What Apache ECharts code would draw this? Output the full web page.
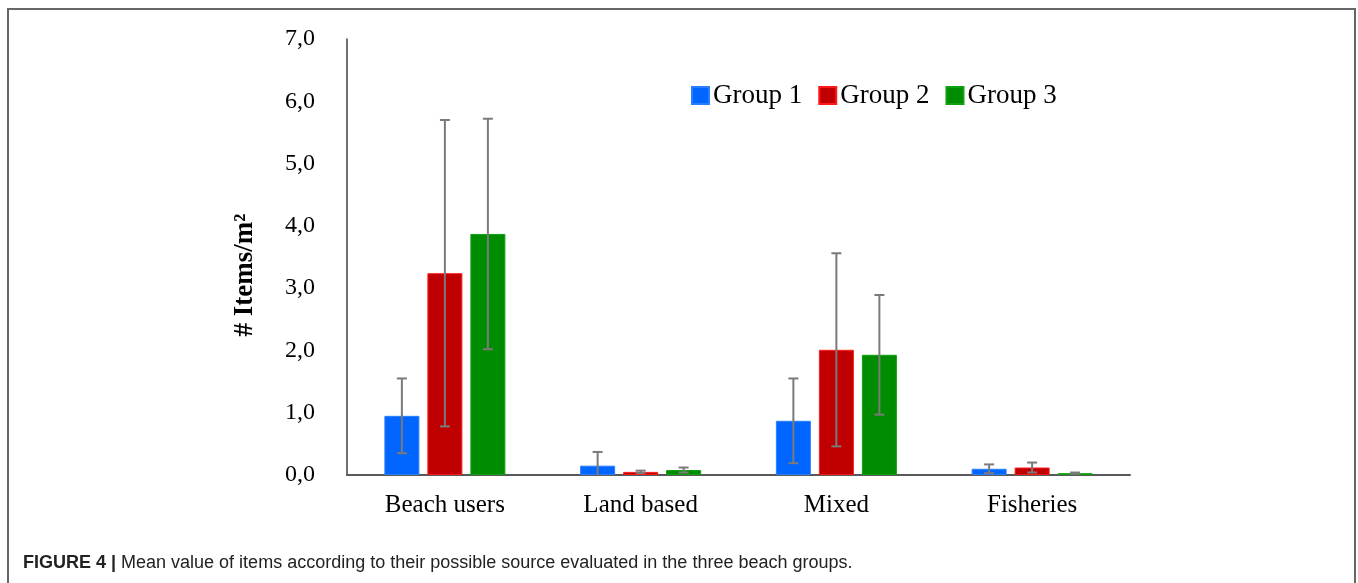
<!DOCTYPE html>
<html>
<head>
<meta charset="utf-8">
<script src="https://cdn.jsdelivr.net/npm/echarts@6/dist/echarts.min.js"></script>
<style>
html,body{margin:0;padding:0;background:#fff;}
#chart{width:1358px;height:583px;}
</style>
</head>
<body>
<div id="chart"></div>
<script>
const categories = ['Beach users', 'Land based', 'Mixed', 'Fisheries'];
const seriesNames = ['Group 1', 'Group 2', 'Group 3'];
const group1Mean = [0.95, 0.15, 0.87, 0.10];
const group2Mean = [3.24, 0.05, 2.01, 0.12];
const group3Mean = [3.87, 0.08, 1.93, 0.03];
const group1Err = [0.60, 0.22, 0.68, 0.07];
const group2Err = [2.46, 0.02, 1.55, 0.08];
const group3Err = [1.85, 0.04, 0.96, 0.01];
const yTicks = [0, 1, 2, 3, 4, 5, 6, 7];

const means = [group1Mean, group2Mean, group3Mean];
const errs = [group1Err, group2Err, group3Err];
const colors = ['#0066ff', '#c00000', '#008c00'];
const borderColors = ['#2a7fff', '#ff1a1a', '#10a010'];
const BAR_W = 35, BAR_GAP = 8;

const chart = echarts.init(document.getElementById('chart'));

const barSeries = seriesNames.map((n, i) => ({
  name: n,
  type: 'bar',
  data: means[i],
  barWidth: BAR_W,
  barGap: (BAR_GAP / BAR_W * 100) + '%',
  itemStyle: { color: colors[i], borderColor: borderColors[i], borderWidth: 1 },
  z: 2
}));

const errSeries = seriesNames.map((n, i) => ({
  type: 'custom',
  name: n + ' err',
  data: means[i].map((m, k) => [k, m, errs[i][k]]),
  z: 5,
  silent: true,
  renderItem: function (params, api) {
    const k = api.value(0), m = api.value(1), e = api.value(2);
    const off = (i - 1) * (BAR_W + BAR_GAP);
    const top = api.coord([k, m + e]);
    const bot = api.coord([k, Math.max(0, m - e)]);
    const x = top[0] + off;
    const cap = 5;
    const st = { stroke: '#7a7a7a', lineWidth: 2 };
    const children = [
      { type: 'line', shape: { x1: x, y1: top[1], x2: x, y2: bot[1] }, style: st },
      { type: 'line', shape: { x1: x - cap, y1: top[1], x2: x + cap, y2: top[1] }, style: st }
    ];
    if (m - e > 0) {
      children.push({ type: 'line', shape: { x1: x - cap, y1: bot[1], x2: x + cap, y2: bot[1] }, style: st });
    }
    return { type: 'group', children: children };
  }
}));

chart.setOption({
  animation: false,
  backgroundColor: '#fff',
  grid: { left: 347, right: 228, top: 39, bottom: 108 },
  legend: {
    data: seriesNames,
    left: 686, top: 77,
    itemWidth: 17, itemHeight: 17, itemGap: 16,
    icon: 'rect',
    textStyle: { fontFamily: 'Liberation Serif', fontSize: 27, color: '#000', padding: [0, 0, 0, -1] }
  },
  xAxis: {
    type: 'category',
    data: categories,
    axisLine: { lineStyle: { color: '#595959', width: 2 } },
    axisTick: { show: false },
    axisLabel: { fontFamily: 'Liberation Serif', fontSize: 25, color: '#000', margin: 18 }
  },
  yAxis: {
    type: 'value',
    min: yTicks[0], max: yTicks[yTicks.length - 1], interval: 1,
    axisLine: { show: true, lineStyle: { color: '#404040', width: 1.5 } },
    axisTick: { show: false },
    splitLine: { show: false },
    axisLabel: {
      fontFamily: 'Liberation Serif', fontSize: 24, color: '#000', margin: 32,
      formatter: v => v.toFixed(1).replace('.', ',')
    }
  },
  graphic: [
    {
      type: 'polyline',
      shape: { points: [[8, 583], [8, 9], [1355, 9], [1355, 583]] },
      style: { stroke: '#666', lineWidth: 2, fill: null }
    },
    {
      type: 'text',
      x: 245, y: 275, rotation: Math.PI / 2,
      style: {
        text: '# Items/m²', fontFamily: 'Liberation Serif', fontWeight: 'bold',
        fontSize: 27, fill: '#000', align: 'center', verticalAlign: 'middle'
      }
    },
    {
      type: 'text',
      left: 23, top: 554,
      style: {
        text: '{b|FIGURE 4 |} Mean value of items according to their possible source evaluated in the three beach groups.',
        fontFamily: 'Liberation Sans', fontSize: 18, fill: '#222',
        rich: { b: { fontWeight: 'bold', fontFamily: 'Liberation Sans', fontSize: 18, fill: '#222' } }
      }
    }
  ],
  series: barSeries.concat(errSeries)
});
</script>
</body>
</html>
